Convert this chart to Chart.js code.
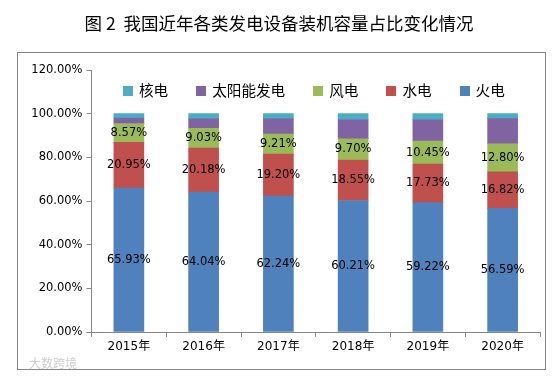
<!DOCTYPE html>
<html>
<head>
<meta charset="utf-8">
<title>装机容量占比</title>
<script src="https://cdn.jsdelivr.net/npm/chart.js@4"></script>
<style>
  body { margin: 0; background: #fff; font-family: "DejaVu Sans", "Noto Sans CJK SC", sans-serif; }
  #wrap { position: relative; width: 560px; height: 377px; overflow: hidden; }
  #frame { position: absolute; left: 17px; top: 52px; width: 527px; height: 316px; border: 1px solid #868686; }
  #legend { position: absolute; left: 123px; top: 80px; display: flex; gap: 28px; font-size: 14.6px; color: #000; line-height: 21px; }
  #legend span.item { display: flex; align-items: center; }
  #legend i { display: block; width: 10px; height: 10px; margin-right: 6px; }
  #mark { position: absolute; left: 29px; top: 356px; font-size: 12px; color: #cfcfcf; font-family: "Noto Sans CJK SC"; line-height: 14px; }
</style>
</head>
<body>
<div id="wrap">
  <div id="frame"></div>
  <canvas id="chart" width="560" height="377"></canvas>
  <div id="legend"></div>
  <div id="mark">大数跨境</div>
</div>
<script>
// ====== DATOS ======
const titulo = "图 2  我国近年各类发电设备装机容量占比变化情况";
const years = ["2015年", "2016年", "2017年", "2018年", "2019年", "2020年"];
const huodian = [65.93, 64.04, 62.24, 60.21, 59.22, 56.59];
const shuidian = [20.95, 20.18, 19.20, 18.55, 17.73, 16.82];
const fengdian = [8.57, 9.03, 9.21, 9.70, 10.45, 12.80];
const taiyang = [2.5, 4.4, 7.0, 8.7, 9.8, 11.5];
const hedian = [2.05, 2.35, 2.35, 2.84, 2.8, 2.29];

// ====== ETIQUETAS EN LAS BARRAS ======
const barLabels = {
  id: "barLabels",
  afterDatasetsDraw(chart) {
    const c = chart.ctx;
    c.save();
    c.font = "11.5px 'DejaVu Sans'";
    c.fillStyle = "#000";
    c.textAlign = "center";
    c.textBaseline = "middle";
    // solo las tres primeras series llevan etiqueta
    [0, 1, 2].forEach((d) => {
      const meta = chart.getDatasetMeta(d);
      meta.data.forEach((bar, i) => {
        const v = chart.data.datasets[d].data[i];
        c.fillText(v.toFixed(2) + "%", bar.x, (bar.y + bar.base) / 2);
      });
    });
    c.restore();
  }
};

const chart = new Chart(document.getElementById("chart"), {
  type: "bar",
  data: {
    labels: years,
    datasets: [
      { label: "火电", data: huodian, backgroundColor: "#4F81BD" },
      { label: "水电", data: shuidian, backgroundColor: "#C0504D" },
      { label: "风电", data: fengdian, backgroundColor: "#9BBB59" },
      { label: "太阳能发电", data: taiyang, backgroundColor: "#8064A2" },
      { label: "核电", data: hedian, backgroundColor: "#4BACC6" }
    ]
  },
  options: {
    responsive: false,
    animation: false,
    layout: { padding: { left: 18, right: 20, top: 0, bottom: 23 } },
    datasets: { bar: { barThickness: 30 } },
    plugins: {
      legend: { display: false },
      tooltip: { enabled: false },
      title: {
        display: true,
        text: titulo,
        color: "#000",
        font: { family: "'Noto Sans CJK SC'", size: 17.5, weight: "normal" },
        padding: { top: 13, bottom: 36 }
      }
    },
    scales: {
      x: {
        stacked: true,
        afterFit(s) { s.height = 22; },
        border: { color: "#868686" },
        grid: { drawOnChartArea: false, tickLength: 5, color: "#868686", offset: true },
        ticks: { color: "#000", padding: 3, maxRotation: 0, font: { family: "'DejaVu Sans','Noto Sans CJK SC'", size: 12 } }
      },
      y: {
        stacked: true,
        min: 0,
        max: 120,
        afterFit(s) { s.width = 73.5; },
        border: { color: "#868686" },
        grid: { drawOnChartArea: false, tickLength: 5, color: "#868686" },
        ticks: {
          stepSize: 20,
          color: "#000",
          padding: 4,
          font: { family: "'DejaVu Sans'", size: 11.5 },
          callback: (v) => v.toFixed(2) + "%"
        }
      }
    }
  },
  plugins: [barLabels]
});

// ====== LEYENDA (orden inverso, va dentro del área) ======
const legend = document.getElementById("legend");
chart.data.datasets.slice().reverse().forEach((ds) => {
  const item = document.createElement("span");
  item.className = "item";
  const box = document.createElement("i");
  box.style.background = ds.backgroundColor;
  item.appendChild(box);
  item.appendChild(document.createTextNode(ds.label));
  legend.appendChild(item);
});
</script>
</body>
</html>
